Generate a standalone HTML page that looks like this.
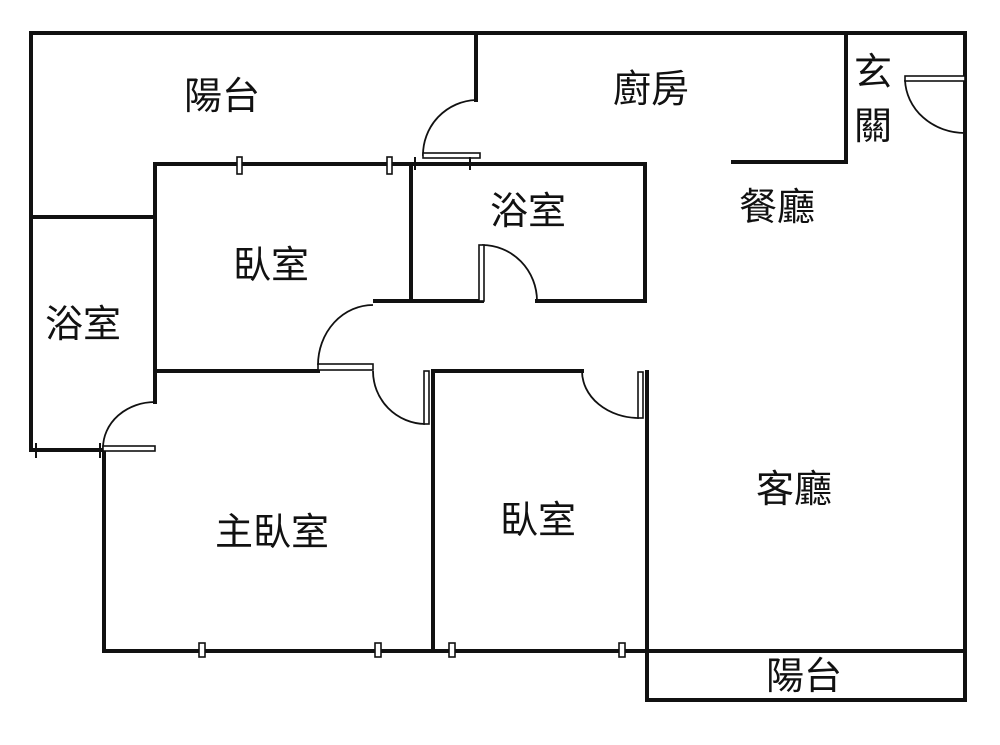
<!DOCTYPE html>
<html><head><meta charset="utf-8"><style>
html,body{margin:0;padding:0;background:#fff;}
svg{display:block;}
text{font-family:"Liberation Sans","Noto Sans CJK TC",sans-serif;font-size:38px;fill:#111;text-anchor:middle;dominant-baseline:central;}
</style></head><body>
<svg width="1000" height="745" viewBox="0 0 1000 745" xmlns="http://www.w3.org/2000/svg">
<g stroke="#111" stroke-width="4" fill="none" stroke-linecap="square">
<line x1="31" y1="33" x2="965" y2="33"/>
<line x1="31" y1="33" x2="31" y2="450"/>
<line x1="965" y1="33" x2="965" y2="700"/>
<line x1="476" y1="33" x2="476" y2="100"/>
<line x1="846" y1="33" x2="846" y2="162"/>
<line x1="733" y1="162" x2="846" y2="162"/>
<line x1="155" y1="164" x2="645" y2="164"/>
<line x1="155" y1="164" x2="155" y2="402"/>
<line x1="31" y1="217" x2="155" y2="217"/>
<line x1="411" y1="164" x2="411" y2="301"/>
<line x1="375" y1="301" x2="482" y2="301"/>
<line x1="537" y1="301" x2="645" y2="301"/>
<line x1="645" y1="164" x2="645" y2="301"/>
<line x1="155" y1="371" x2="318" y2="371"/>
<line x1="433" y1="371" x2="582" y2="371"/>
<line x1="433" y1="371" x2="433" y2="651"/>
<line x1="647" y1="372" x2="647" y2="700"/>
<line x1="31" y1="450" x2="100" y2="450"/>
<line x1="104" y1="450" x2="104" y2="651"/>
<line x1="104" y1="651" x2="965" y2="651"/>
<line x1="647" y1="700" x2="965" y2="700"/>
</g>
<g stroke="#111" stroke-width="1.8" fill="none">
<path d="M476 100 A55 55 0 0 0 423 156"/>
<path d="M905 80 A60 55 0 0 0 965 133"/>
<path d="M482 245 A55 56 0 0 1 537 301"/>
<path d="M373 305 A55 60 0 0 0 318 365"/>
<path d="M373 371 A53 53 0 0 0 425 424"/>
<path d="M582 371 A57 47 0 0 0 639 418"/>
<path d="M155 402 A52 46 0 0 0 103 448"/>
</g>
<g stroke="#111" stroke-width="1.6" fill="#fff">
<rect x="423" y="153" width="57" height="5"/>
<rect x="905" y="76" width="60" height="5"/>
<rect x="479" y="245" width="5" height="56"/>
<rect x="318" y="364" width="55" height="6"/>
<rect x="424" y="371" width="5" height="53"/>
<rect x="638" y="372" width="5" height="46"/>
<rect x="103" y="446" width="52" height="5"/>
<rect x="237" y="157" width="5" height="17"/>
<rect x="387" y="157" width="5" height="17"/>
<rect x="199" y="643" width="6" height="14"/>
<rect x="375" y="643" width="6" height="14"/>
<rect x="449" y="643" width="6" height="14"/>
<rect x="619" y="643" width="6" height="14"/>
</g>
<g stroke="#111" stroke-width="2">
<line x1="415" y1="157" x2="415" y2="170"/>
<line x1="470" y1="157" x2="470" y2="170"/>
<line x1="36" y1="443" x2="36" y2="458"/>
<line x1="100" y1="443" x2="100" y2="458"/>
</g>
<text x="222" y="97">陽台</text>
<text x="651" y="90">廚房</text>
<text x="873" y="73">玄</text>
<text x="873" y="127">關</text>
<text x="528" y="212">浴室</text>
<text x="777" y="208">餐廳</text>
<text x="271" y="266">臥室</text>
<text x="83" y="325">浴室</text>
<text x="794" y="490">客廳</text>
<text x="272" y="533">主臥室</text>
<text x="538" y="521">臥室</text>
<text x="804" y="677">陽台</text>
</svg>
</body></html>
